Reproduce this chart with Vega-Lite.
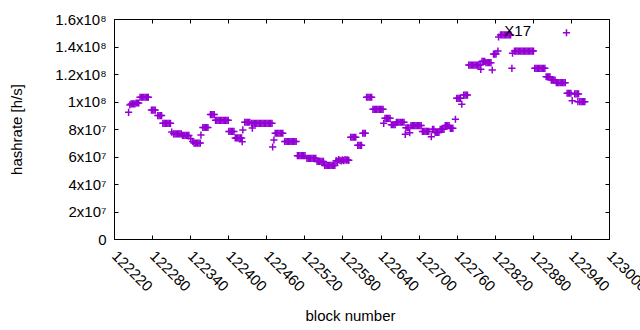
{
  "$schema": "https://vega.github.io/schema/vega-lite/v6.json",
  "width": 495,
  "height": 220,
  "autosize": "none",
  "padding": {"left": 114, "top": 19, "right": 31, "bottom": 91},
  "background": "white",
  "config": {
    "view": {"stroke": "black", "strokeWidth": 1},
    "axis": {
      "grid": false,
      "domain": false,
      "labelFont": "Liberation Sans",
      "titleFont": "Liberation Sans",
      "labelFontSize": 15,
      "titleFontSize": 15,
      "titleFontWeight": "normal",
      "labelColor": "black",
      "titleColor": "black",
      "tickColor": "black",
      "tickSize": -4,
      "tickWidth": 1
    }
  },
  "data": {
    "values": [
      {"block": 122243, "hashrate": 92100000},
      {"block": 122245, "hashrate": 97500000},
      {"block": 122247, "hashrate": 98200000},
      {"block": 122249, "hashrate": 98200000},
      {"block": 122251, "hashrate": 98200000},
      {"block": 122253, "hashrate": 98200000},
      {"block": 122255, "hashrate": 98900000},
      {"block": 122257, "hashrate": 98900000},
      {"block": 122259, "hashrate": 98900000},
      {"block": 122261, "hashrate": 103100000},
      {"block": 122263, "hashrate": 103100000},
      {"block": 122265, "hashrate": 103100000},
      {"block": 122267, "hashrate": 103100000},
      {"block": 122269, "hashrate": 103100000},
      {"block": 122271, "hashrate": 103100000},
      {"block": 122273, "hashrate": 103100000},
      {"block": 122274, "hashrate": 103100000},
      {"block": 122279, "hashrate": 93800000},
      {"block": 122281, "hashrate": 93800000},
      {"block": 122283, "hashrate": 93800000},
      {"block": 122285, "hashrate": 93800000},
      {"block": 122289, "hashrate": 89800000},
      {"block": 122291, "hashrate": 89800000},
      {"block": 122293, "hashrate": 89800000},
      {"block": 122295, "hashrate": 89800000},
      {"block": 122297, "hashrate": 84100000},
      {"block": 122299, "hashrate": 84100000},
      {"block": 122301, "hashrate": 84100000},
      {"block": 122303, "hashrate": 84100000},
      {"block": 122305, "hashrate": 84100000},
      {"block": 122307, "hashrate": 84100000},
      {"block": 122309, "hashrate": 84100000},
      {"block": 122311, "hashrate": 77800000},
      {"block": 122314, "hashrate": 76500000},
      {"block": 122316, "hashrate": 76500000},
      {"block": 122318, "hashrate": 76500000},
      {"block": 122320, "hashrate": 76500000},
      {"block": 122322, "hashrate": 76500000},
      {"block": 122324, "hashrate": 76500000},
      {"block": 122326, "hashrate": 76500000},
      {"block": 122328, "hashrate": 75300000},
      {"block": 122330, "hashrate": 75300000},
      {"block": 122332, "hashrate": 75300000},
      {"block": 122334, "hashrate": 75300000},
      {"block": 122336, "hashrate": 75300000},
      {"block": 122338, "hashrate": 75300000},
      {"block": 122341, "hashrate": 73000000},
      {"block": 122344, "hashrate": 71000000},
      {"block": 122346, "hashrate": 69800000},
      {"block": 122348, "hashrate": 69800000},
      {"block": 122350, "hashrate": 69800000},
      {"block": 122352, "hashrate": 69800000},
      {"block": 122354, "hashrate": 69800000},
      {"block": 122356, "hashrate": 69800000},
      {"block": 122357, "hashrate": 75600000},
      {"block": 122360, "hashrate": 81100000},
      {"block": 122362, "hashrate": 81100000},
      {"block": 122364, "hashrate": 81100000},
      {"block": 122366, "hashrate": 81100000},
      {"block": 122368, "hashrate": 81100000},
      {"block": 122372, "hashrate": 90500000},
      {"block": 122374, "hashrate": 90500000},
      {"block": 122376, "hashrate": 90500000},
      {"block": 122378, "hashrate": 90500000},
      {"block": 122380, "hashrate": 86300000},
      {"block": 122382, "hashrate": 86300000},
      {"block": 122384, "hashrate": 86300000},
      {"block": 122386, "hashrate": 86300000},
      {"block": 122388, "hashrate": 86300000},
      {"block": 122390, "hashrate": 86300000},
      {"block": 122392, "hashrate": 86300000},
      {"block": 122394, "hashrate": 86300000},
      {"block": 122396, "hashrate": 86300000},
      {"block": 122398, "hashrate": 86300000},
      {"block": 122400, "hashrate": 86300000},
      {"block": 122401, "hashrate": 78200000},
      {"block": 122403, "hashrate": 78200000},
      {"block": 122405, "hashrate": 78200000},
      {"block": 122407, "hashrate": 78200000},
      {"block": 122409, "hashrate": 78200000},
      {"block": 122411, "hashrate": 73500000},
      {"block": 122413, "hashrate": 73500000},
      {"block": 122415, "hashrate": 73500000},
      {"block": 122417, "hashrate": 73500000},
      {"block": 122419, "hashrate": 73500000},
      {"block": 122421, "hashrate": 73500000},
      {"block": 122422, "hashrate": 70800000},
      {"block": 122423, "hashrate": 79300000},
      {"block": 122426, "hashrate": 84900000},
      {"block": 122428, "hashrate": 84900000},
      {"block": 122430, "hashrate": 84900000},
      {"block": 122432, "hashrate": 84900000},
      {"block": 122434, "hashrate": 84900000},
      {"block": 122437, "hashrate": 84100000},
      {"block": 122438, "hashrate": 80700000},
      {"block": 122439, "hashrate": 84100000},
      {"block": 122441, "hashrate": 84100000},
      {"block": 122443, "hashrate": 84100000},
      {"block": 122445, "hashrate": 84100000},
      {"block": 122447, "hashrate": 84100000},
      {"block": 122449, "hashrate": 84100000},
      {"block": 122451, "hashrate": 84100000},
      {"block": 122453, "hashrate": 84100000},
      {"block": 122455, "hashrate": 84100000},
      {"block": 122457, "hashrate": 84100000},
      {"block": 122459, "hashrate": 84100000},
      {"block": 122461, "hashrate": 84100000},
      {"block": 122463, "hashrate": 84100000},
      {"block": 122465, "hashrate": 84100000},
      {"block": 122467, "hashrate": 84100000},
      {"block": 122469, "hashrate": 84100000},
      {"block": 122470, "hashrate": 66900000},
      {"block": 122472, "hashrate": 72000000},
      {"block": 122474, "hashrate": 76900000},
      {"block": 122476, "hashrate": 76900000},
      {"block": 122478, "hashrate": 76900000},
      {"block": 122480, "hashrate": 76900000},
      {"block": 122482, "hashrate": 76900000},
      {"block": 122484, "hashrate": 76900000},
      {"block": 122486, "hashrate": 76900000},
      {"block": 122489, "hashrate": 70900000},
      {"block": 122491, "hashrate": 70900000},
      {"block": 122493, "hashrate": 70900000},
      {"block": 122495, "hashrate": 70900000},
      {"block": 122497, "hashrate": 70900000},
      {"block": 122499, "hashrate": 70900000},
      {"block": 122501, "hashrate": 70900000},
      {"block": 122503, "hashrate": 70900000},
      {"block": 122505, "hashrate": 70900000},
      {"block": 122507, "hashrate": 70900000},
      {"block": 122509, "hashrate": 60600000},
      {"block": 122511, "hashrate": 60600000},
      {"block": 122513, "hashrate": 60600000},
      {"block": 122515, "hashrate": 60600000},
      {"block": 122517, "hashrate": 60600000},
      {"block": 122519, "hashrate": 60600000},
      {"block": 122521, "hashrate": 60600000},
      {"block": 122524, "hashrate": 58700000},
      {"block": 122526, "hashrate": 58700000},
      {"block": 122528, "hashrate": 58700000},
      {"block": 122530, "hashrate": 58700000},
      {"block": 122532, "hashrate": 58700000},
      {"block": 122534, "hashrate": 58700000},
      {"block": 122536, "hashrate": 58700000},
      {"block": 122538, "hashrate": 58700000},
      {"block": 122540, "hashrate": 56400000},
      {"block": 122542, "hashrate": 56400000},
      {"block": 122544, "hashrate": 56400000},
      {"block": 122546, "hashrate": 56400000},
      {"block": 122548, "hashrate": 56400000},
      {"block": 122550, "hashrate": 56400000},
      {"block": 122552, "hashrate": 53500000},
      {"block": 122554, "hashrate": 53500000},
      {"block": 122556, "hashrate": 53500000},
      {"block": 122558, "hashrate": 53500000},
      {"block": 122560, "hashrate": 53500000},
      {"block": 122562, "hashrate": 53500000},
      {"block": 122564, "hashrate": 53500000},
      {"block": 122566, "hashrate": 53500000},
      {"block": 122568, "hashrate": 53500000},
      {"block": 122570, "hashrate": 57000000},
      {"block": 122572, "hashrate": 56500000},
      {"block": 122574, "hashrate": 57800000},
      {"block": 122576, "hashrate": 57200000},
      {"block": 122578, "hashrate": 56800000},
      {"block": 122580, "hashrate": 57500000},
      {"block": 122582, "hashrate": 57000000},
      {"block": 122584, "hashrate": 57800000},
      {"block": 122586, "hashrate": 57300000},
      {"block": 122588, "hashrate": 57600000},
      {"block": 122590, "hashrate": 57200000},
      {"block": 122593, "hashrate": 74000000},
      {"block": 122595, "hashrate": 74000000},
      {"block": 122597, "hashrate": 74000000},
      {"block": 122599, "hashrate": 74000000},
      {"block": 122601, "hashrate": 74000000},
      {"block": 122604, "hashrate": 68100000},
      {"block": 122606, "hashrate": 68100000},
      {"block": 122608, "hashrate": 68100000},
      {"block": 122610, "hashrate": 68100000},
      {"block": 122612, "hashrate": 76900000},
      {"block": 122614, "hashrate": 76900000},
      {"block": 122616, "hashrate": 76900000},
      {"block": 122618, "hashrate": 103100000},
      {"block": 122620, "hashrate": 103100000},
      {"block": 122622, "hashrate": 103100000},
      {"block": 122624, "hashrate": 103100000},
      {"block": 122626, "hashrate": 103100000},
      {"block": 122628, "hashrate": 94300000},
      {"block": 122630, "hashrate": 94300000},
      {"block": 122632, "hashrate": 94300000},
      {"block": 122634, "hashrate": 94300000},
      {"block": 122636, "hashrate": 94300000},
      {"block": 122638, "hashrate": 94300000},
      {"block": 122640, "hashrate": 94300000},
      {"block": 122642, "hashrate": 94300000},
      {"block": 122644, "hashrate": 94300000},
      {"block": 122645, "hashrate": 84100000},
      {"block": 122647, "hashrate": 87800000},
      {"block": 122649, "hashrate": 87800000},
      {"block": 122651, "hashrate": 87800000},
      {"block": 122653, "hashrate": 87800000},
      {"block": 122655, "hashrate": 87800000},
      {"block": 122657, "hashrate": 83100000},
      {"block": 122659, "hashrate": 83100000},
      {"block": 122661, "hashrate": 83100000},
      {"block": 122663, "hashrate": 83100000},
      {"block": 122665, "hashrate": 84900000},
      {"block": 122667, "hashrate": 84900000},
      {"block": 122669, "hashrate": 84900000},
      {"block": 122671, "hashrate": 84900000},
      {"block": 122673, "hashrate": 84900000},
      {"block": 122675, "hashrate": 84900000},
      {"block": 122677, "hashrate": 84900000},
      {"block": 122679, "hashrate": 76100000},
      {"block": 122680, "hashrate": 80900000},
      {"block": 122682, "hashrate": 80900000},
      {"block": 122684, "hashrate": 80900000},
      {"block": 122686, "hashrate": 77300000},
      {"block": 122688, "hashrate": 82500000},
      {"block": 122690, "hashrate": 82500000},
      {"block": 122692, "hashrate": 82500000},
      {"block": 122694, "hashrate": 82500000},
      {"block": 122696, "hashrate": 82500000},
      {"block": 122698, "hashrate": 82500000},
      {"block": 122700, "hashrate": 82500000},
      {"block": 122702, "hashrate": 82500000},
      {"block": 122704, "hashrate": 82500000},
      {"block": 122706, "hashrate": 78200000},
      {"block": 122708, "hashrate": 78200000},
      {"block": 122710, "hashrate": 78200000},
      {"block": 122712, "hashrate": 78200000},
      {"block": 122714, "hashrate": 78200000},
      {"block": 122716, "hashrate": 78200000},
      {"block": 122720, "hashrate": 74400000},
      {"block": 122722, "hashrate": 79800000},
      {"block": 122724, "hashrate": 79800000},
      {"block": 122726, "hashrate": 77500000},
      {"block": 122728, "hashrate": 77500000},
      {"block": 122730, "hashrate": 77500000},
      {"block": 122732, "hashrate": 77500000},
      {"block": 122734, "hashrate": 79800000},
      {"block": 122736, "hashrate": 79800000},
      {"block": 122738, "hashrate": 79800000},
      {"block": 122740, "hashrate": 79800000},
      {"block": 122742, "hashrate": 82500000},
      {"block": 122744, "hashrate": 82500000},
      {"block": 122746, "hashrate": 82500000},
      {"block": 122748, "hashrate": 82500000},
      {"block": 122750, "hashrate": 80500000},
      {"block": 122752, "hashrate": 80500000},
      {"block": 122754, "hashrate": 80500000},
      {"block": 122758, "hashrate": 87100000},
      {"block": 122760, "hashrate": 102300000},
      {"block": 122762, "hashrate": 102300000},
      {"block": 122764, "hashrate": 102300000},
      {"block": 122766, "hashrate": 102300000},
      {"block": 122768, "hashrate": 98000000},
      {"block": 122771, "hashrate": 104700000},
      {"block": 122773, "hashrate": 104700000},
      {"block": 122775, "hashrate": 104700000},
      {"block": 122777, "hashrate": 104700000},
      {"block": 122779, "hashrate": 126500000},
      {"block": 122781, "hashrate": 126500000},
      {"block": 122783, "hashrate": 126500000},
      {"block": 122785, "hashrate": 126500000},
      {"block": 122787, "hashrate": 126500000},
      {"block": 122789, "hashrate": 126500000},
      {"block": 122791, "hashrate": 126500000},
      {"block": 122793, "hashrate": 126500000},
      {"block": 122795, "hashrate": 126500000},
      {"block": 122797, "hashrate": 126500000},
      {"block": 122798, "hashrate": 123400000},
      {"block": 122800, "hashrate": 129200000},
      {"block": 122802, "hashrate": 129200000},
      {"block": 122804, "hashrate": 129200000},
      {"block": 122806, "hashrate": 128200000},
      {"block": 122808, "hashrate": 128200000},
      {"block": 122810, "hashrate": 128200000},
      {"block": 122812, "hashrate": 128200000},
      {"block": 122814, "hashrate": 128200000},
      {"block": 122816, "hashrate": 122900000},
      {"block": 122818, "hashrate": 134500000},
      {"block": 122820, "hashrate": 134500000},
      {"block": 122822, "hashrate": 134500000},
      {"block": 122825, "hashrate": 136700000},
      {"block": 122826, "hashrate": 146900000},
      {"block": 122829, "hashrate": 148400000},
      {"block": 122831, "hashrate": 148400000},
      {"block": 122833, "hashrate": 148400000},
      {"block": 122835, "hashrate": 148400000},
      {"block": 122837, "hashrate": 148400000},
      {"block": 122839, "hashrate": 148400000},
      {"block": 122841, "hashrate": 148400000},
      {"block": 122843, "hashrate": 148400000},
      {"block": 122845, "hashrate": 148400000},
      {"block": 122847, "hashrate": 124100000},
      {"block": 122848, "hashrate": 135100000},
      {"block": 122851, "hashrate": 136700000},
      {"block": 122853, "hashrate": 136700000},
      {"block": 122855, "hashrate": 136700000},
      {"block": 122857, "hashrate": 136700000},
      {"block": 122859, "hashrate": 136700000},
      {"block": 122861, "hashrate": 136700000},
      {"block": 122863, "hashrate": 136700000},
      {"block": 122865, "hashrate": 136700000},
      {"block": 122867, "hashrate": 136700000},
      {"block": 122869, "hashrate": 136700000},
      {"block": 122871, "hashrate": 136700000},
      {"block": 122873, "hashrate": 136700000},
      {"block": 122875, "hashrate": 136700000},
      {"block": 122877, "hashrate": 136700000},
      {"block": 122879, "hashrate": 136700000},
      {"block": 122881, "hashrate": 136700000},
      {"block": 122883, "hashrate": 124100000},
      {"block": 122885, "hashrate": 124100000},
      {"block": 122887, "hashrate": 124100000},
      {"block": 122889, "hashrate": 124100000},
      {"block": 122891, "hashrate": 124100000},
      {"block": 122893, "hashrate": 124100000},
      {"block": 122895, "hashrate": 124100000},
      {"block": 122897, "hashrate": 124100000},
      {"block": 122899, "hashrate": 124100000},
      {"block": 122901, "hashrate": 118000000},
      {"block": 122903, "hashrate": 118000000},
      {"block": 122905, "hashrate": 118000000},
      {"block": 122907, "hashrate": 118000000},
      {"block": 122909, "hashrate": 115600000},
      {"block": 122911, "hashrate": 115600000},
      {"block": 122913, "hashrate": 115600000},
      {"block": 122915, "hashrate": 115600000},
      {"block": 122917, "hashrate": 113700000},
      {"block": 122919, "hashrate": 113700000},
      {"block": 122921, "hashrate": 113700000},
      {"block": 122923, "hashrate": 113700000},
      {"block": 122925, "hashrate": 113700000},
      {"block": 122927, "hashrate": 113700000},
      {"block": 122929, "hashrate": 113700000},
      {"block": 122931, "hashrate": 113700000},
      {"block": 122933, "hashrate": 150000000},
      {"block": 122934, "hashrate": 106000000},
      {"block": 122936, "hashrate": 106000000},
      {"block": 122938, "hashrate": 106000000},
      {"block": 122940, "hashrate": 106000000},
      {"block": 122942, "hashrate": 100600000},
      {"block": 122946, "hashrate": 105500000},
      {"block": 122948, "hashrate": 105500000},
      {"block": 122950, "hashrate": 105500000},
      {"block": 122951, "hashrate": 99900000},
      {"block": 122952, "hashrate": 105500000},
      {"block": 122954, "hashrate": 99900000},
      {"block": 122956, "hashrate": 99900000},
      {"block": 122958, "hashrate": 99900000},
      {"block": 122960, "hashrate": 99900000},
      {"block": 122962, "hashrate": 99900000}
    ]
  },
  "layer": [
    {
      "mark": {"type": "point", "shape": "M-1,0H1M0,-1V1", "size": 52, "filled": false, "stroke": "#9400D3", "strokeWidth": 1.5, "opacity": 1},
      "encoding": {
        "x": {
          "field": "block", "type": "quantitative",
          "scale": {"domain": [122220, 123000], "nice": false, "zero": false},
          "axis": {
            "values": [122220, 122280, 122340, 122400, 122460, 122520, 122580, 122640, 122700, 122760, 122820, 122880, 122940, 123000],
            "format": "d", "labelAngle": 45, "labelAlign": "left", "labelBaseline": "middle",
            "labelPadding": 18, "labelFlush": false, "labelOverlap": false, "labelBound": false,
            "title": "block number", "titlePadding": 14, "titleX": 236
          }
        },
        "y": {
          "field": "hashrate", "type": "quantitative",
          "scale": {"domain": [0, 160000000], "nice": false, "zero": true},
          "axis": {
            "values": [0, 20000000, 40000000, 60000000, 80000000, 100000000, 120000000, 140000000, 160000000],
            "labelExpr": "datum.value == 0 ? '0' : (datum.value < 100000000 ? (datum.value / 10000000) + 'x10⁷' : (datum.value / 100000000) + 'x10⁸')",
            "labelPadding": 12, "labelFlush": false, "labelOverlap": false,
            "title": "hashrate [h/s]", "titlePadding": 30
          }
        }
      }
    },
    {
      "mark": {"type": "point", "opacity": 0},
      "encoding": {
        "x": {
          "field": "block", "type": "quantitative",
          "axis": {"orient": "top", "labels": false, "title": null,
            "values": [122220, 122280, 122340, 122400, 122460, 122520, 122580, 122640, 122700, 122760, 122820, 122880, 122940, 123000]}
        },
        "y": {
          "field": "hashrate", "type": "quantitative",
          "axis": {"orient": "right", "labels": false, "title": null,
            "values": [0, 20000000, 40000000, 60000000, 80000000, 100000000, 120000000, 140000000, 160000000]}
        }
      }
    },
    {
      "data": {"values": [{"block": 122835, "hashrate": 151000000, "label": "X17"}]},
      "mark": {"type": "text", "align": "left", "baseline": "middle", "font": "Liberation Sans", "fontSize": 15, "color": "black"},
      "encoding": {
        "x": {"field": "block", "type": "quantitative", "axis": null},
        "y": {"field": "hashrate", "type": "quantitative", "axis": null},
        "text": {"field": "label"}
      }
    }
  ],
  "resolve": {"axis": {"x": "independent", "y": "independent"}}
}
